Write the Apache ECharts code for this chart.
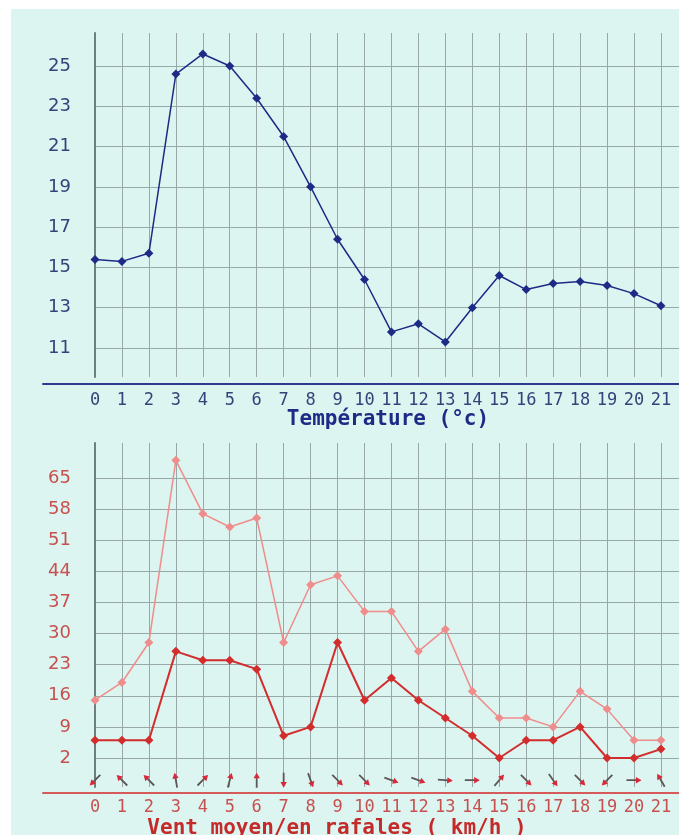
<!DOCTYPE html>
<html><head><meta charset="utf-8">
<script src="https://cdn.jsdelivr.net/npm/echarts@6/dist/echarts.min.js"></script>
<style>
html,body{margin:0;padding:0;background:#ffffff;width:679px;height:835px;overflow:hidden}
#c{position:absolute;left:11px;top:9px;width:668px;height:826px}
</style></head>
<body><div id="c"></div>
<script>
// ---- data ----
const hours = [0,1,2,3,4,5,6,7,8,9,10,11,12,13,14,15,16,17,18,19,20,21];
const tempTicks = [11,13,15,17,19,21,23,25];
const temperature = [15.4,15.3,15.7,24.6,25.6,25.0,23.4,21.5,19.0,16.4,14.4,11.8,12.2,11.3,13.0,14.6,13.9,14.2,14.3,14.1,13.7,13.1];
const windTicks = [2,9,16,23,30,37,44,51,58,65];
const gusts = [15,19,28,69,57,54,56,28,41,43,35,35,26,31,17,11,11,9,17,13,6,6];
const meanWind = [6,6,6,26,24,24,22,7,9,28,15,20,15,11,7,2,6,6,9,2,2,4];
// direction the arrow points to, degrees clockwise from up
const windDir = [225,315,315,350,45,15,0,180,160,135,135,110,110,95,90,40,135,145,135,225,90,330];
const tempTitle = 'Température (°c)';
const windTitle = 'Vent moyen/en rafales ( km/h )';

// ---- style ----
const GRID_C = '#97a8a6';
const NAVY = '#1d2b86';
const NAVY_LBL = '#34447a';
const RED = '#d22c2c';
const PINK = '#ef8c8c';
const RED_LBL = '#c85050';
const XMAX = 21.67, XMIN_AX = -1.93;
const ARROW_Y = -3;
const HEAD_PATH = 'path://M5,0 L8.2,6 L1.8,6 Z M0,16 L0.01,16 L0,16 Z M10,16 L10.01,16 L10,16 Z';
const SHAFT_PATH = 'path://M4.1,5 L5.9,5 L5.9,16 L4.1,16 Z M0,0 L0.01,0 L0,0 Z M10,0 L10.01,0 L10,0 Z';

const chart = echarts.init(document.getElementById('c'), null, {renderer:'canvas'});

function mainX(idx){
  return {gridIndex:idx, type:'value', min:0, max:XMAX,
    axisLine:{show:false}, axisTick:{show:false, customValues:hours},
    axisLabel:{show:false, customValues:hours},
    splitLine:{show:true, lineStyle:{color:GRID_C, width:1}}};
}
function axisX(idx, off, lineColor, lblColor, margin){
  return {gridIndex:idx, type:'value', min:XMIN_AX, max:XMAX, offset:off,
    axisLine:{show:true, onZero:false, lineStyle:{color:lineColor, width:2}},
    axisTick:{show:false, customValues:hours},
    axisLabel:{show:true, customValues:hours, margin:margin, color:lblColor,
      fontFamily:'DejaVu Sans Mono', fontSize:17},
    splitLine:{show:false}};
}
function mainY(idx, min, max, ticks, lblColor){
  return {gridIndex:idx, type:'value', min:min, max:max,
    axisLine:{show:true, onZero:false, lineStyle:{color:'#6d7f7e', width:2}},
    axisTick:{show:false, customValues:ticks},
    axisLabel:{show:true, customValues:ticks, margin:24, color:lblColor,
      fontFamily:'DejaVu Sans', fontSize:18},
    splitLine:{show:true, lineStyle:{color:GRID_C, width:1}}};
}
function arrowSeries(path, color){
  return {type:'scatter', xAxisIndex:2, yAxisIndex:2, silent:true, z:5,
    symbol:path, symbolSize:[10,15],
    itemStyle:{color:color, opacity:1},
    data:hours.map((h,i)=>({value:[h, ARROW_Y], symbolRotate:-windDir[i]}))};
}

const option = {
  animation:false,
  backgroundColor:'#dcf5f0',
  grid:[
    {left:84, right:0, top:24, height:344},
    {left:32, right:0, top:24, height:344},
    {left:84, right:0, top:434, height:344},
    {left:32, right:0, top:434, height:344}
  ],
  xAxis:[
    mainX(0),
    axisX(1, 7, '#2b3b8f', NAVY_LBL, 8),
    mainX(2),
    axisX(3, 6, '#d65a5a', RED_LBL, 6)
  ],
  yAxis:[
    mainY(0, 9.56, 26.64, tempTicks, NAVY_LBL),
    {gridIndex:1, type:'value', min:0, max:1, show:false},
    mainY(2, -4.53, 72.9, windTicks, RED_LBL),
    {gridIndex:3, type:'value', min:0, max:1, show:false}
  ],
  series:[
    {type:'line', xAxisIndex:0, yAxisIndex:0, silent:true,
     data:hours.map((h,i)=>[h, temperature[i]]),
     symbol:'diamond', symbolSize:9,
     lineStyle:{color:NAVY, width:1.5}, itemStyle:{color:NAVY}},
    {type:'line', xAxisIndex:2, yAxisIndex:2, silent:true,
     data:hours.map((h,i)=>[h, gusts[i]]),
     symbol:'diamond', symbolSize:9,
     lineStyle:{color:PINK, width:1.5}, itemStyle:{color:PINK}},
    {type:'line', xAxisIndex:2, yAxisIndex:2, silent:true,
     data:hours.map((h,i)=>[h, meanWind[i]]),
     symbol:'diamond', symbolSize:9,
     lineStyle:{color:RED, width:2}, itemStyle:{color:RED}},
    arrowSeries(SHAFT_PATH, '#5e5656'),
    arrowSeries(HEAD_PATH, '#d8283a')
  ],
  graphic:[
    {type:'text', x:377, y:411, silent:true,
     style:{text:tempTitle, font:'bold 21px "DejaVu Sans Mono"', fill:NAVY,
       align:'center', verticalAlign:'middle', textAlign:'center', textVerticalAlign:'middle'}},
    {type:'text', x:326, y:820, silent:true,
     style:{text:windTitle, font:'bold 21px "DejaVu Sans Mono"', fill:'#c42a2a',
       align:'center', verticalAlign:'middle', textAlign:'center', textVerticalAlign:'middle'}}
  ]
};
chart.setOption(option);
</script>
</body></html>
